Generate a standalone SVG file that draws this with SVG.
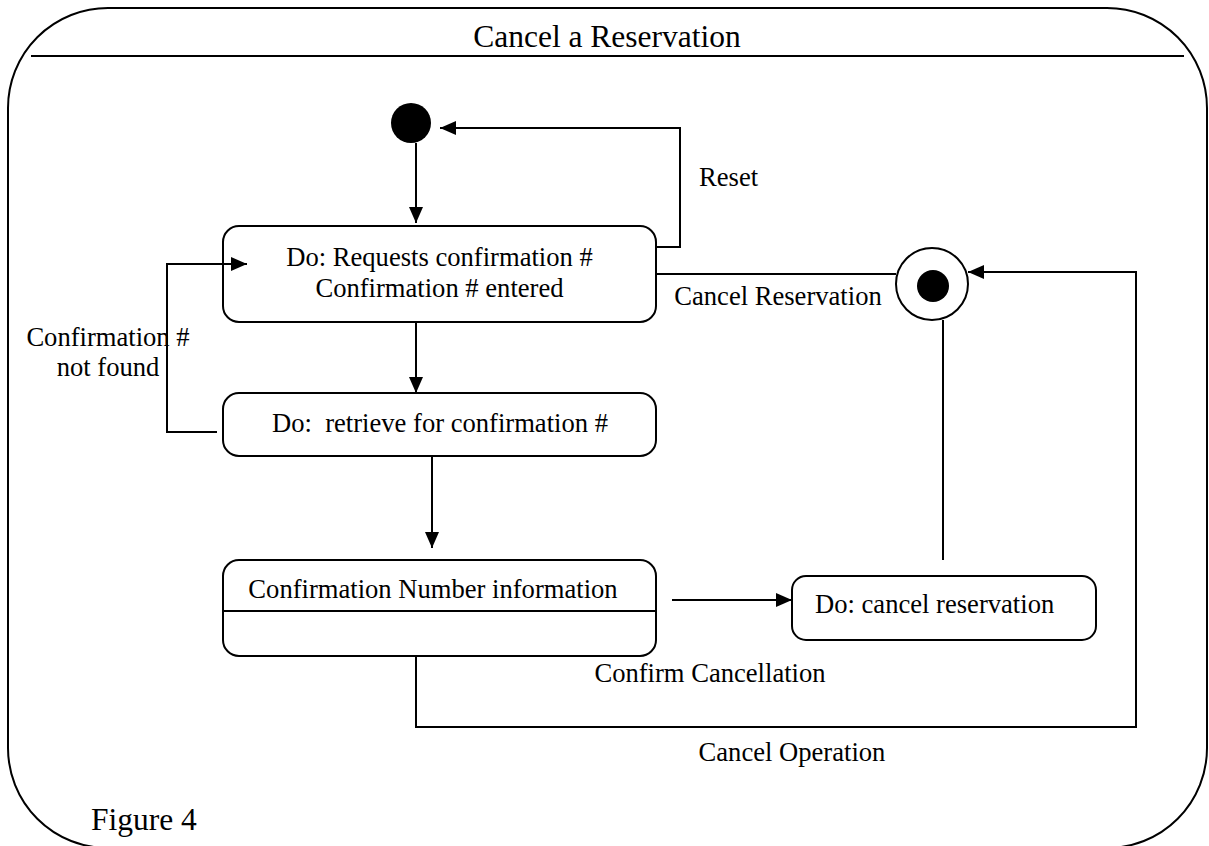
<svg xmlns="http://www.w3.org/2000/svg" width="1209" height="846" viewBox="0 0 1209 846">
<style>
.t{font-family:"Liberation Serif","Times New Roman",serif;font-size:26.6px;fill:#000}
.big{font-size:31.5px}
.box{fill:#fff;stroke:#000;stroke-width:2}
.ln{fill:none;stroke:#000;stroke-width:2}
</style>
<defs>
<marker id="ah" viewBox="0 0 16 14" refX="16" refY="7" markerWidth="16" markerHeight="14" markerUnits="userSpaceOnUse" orient="auto">
<path d="M0,0 L16,7 L0,14 Z" fill="#000"/>
</marker>
</defs>
<rect width="1209" height="846" fill="#fff"/>
<g id="frame">
<rect x="8" y="8" width="1199" height="840" rx="100" ry="100" fill="none" stroke="#000" stroke-width="2"/>
<line x1="31" y1="56" x2="1184" y2="56" stroke="#000" stroke-width="2"/>
<text class="t big" x="607" y="47" text-anchor="middle">Cancel a Reservation</text>
<text class="t big" x="91" y="830">Figure 4</text>
</g>
<g id="initial">
<circle cx="411" cy="123" r="20" fill="#000"/>
</g>
<g id="final">
<circle cx="932" cy="284" r="36" fill="#fff" stroke="#000" stroke-width="2"/>
<circle cx="933" cy="286" r="16" fill="#000"/>
</g>
<g id="request">
<rect class="box" x="223" y="226" width="433" height="96" rx="16"/>
<text class="t" x="439.5" y="266" text-anchor="middle">Do: Requests confirmation #</text>
<text class="t" x="439.5" y="297" text-anchor="middle">Confirmation # entered</text>
</g>
<g id="retrieve">
<rect class="box" x="223" y="393" width="433" height="63" rx="16"/>
<text class="t" x="440" y="432" text-anchor="middle" xml:space="preserve">Do:  retrieve for confirmation #</text>
</g>
<g id="info">
<rect class="box" x="223" y="560" width="433" height="96" rx="16"/>
<line x1="223" y1="611" x2="656" y2="611" stroke="#000" stroke-width="2"/>
<text class="t" x="433" y="598" text-anchor="middle">Confirmation Number information</text>
</g>
<g id="cancel">
<rect class="box" x="792" y="576" width="304" height="64" rx="14"/>
<text class="t" x="815" y="613">Do: cancel reservation</text>
</g>
<g id="connectors">
<path class="ln" d="M416,143 L416,223" marker-end="url(#ah)"/>
<path class="ln" d="M656,247 L680,247 L680,128 L440,128" marker-end="url(#ah)"/>
<path class="ln" d="M416,322 L416,393" marker-end="url(#ah)"/>
<path class="ln" d="M217,432 L167,432 L167,264 L247,264" marker-end="url(#ah)"/>
<path class="ln" d="M656,274 L896,274"/>
<path class="ln" d="M432,456 L432,548" marker-end="url(#ah)"/>
<path class="ln" d="M672,600 L792,600" marker-end="url(#ah)"/>
<path class="ln" d="M943,320 L943,560"/>
<path class="ln" d="M416,656 L416,727 L1136,727 L1136,272 L968,272" marker-end="url(#ah)"/>
<text class="t" x="699" y="186">Reset</text>
<text class="t" x="778" y="305" text-anchor="middle">Cancel Reservation</text>
<text class="t" x="108" y="346" text-anchor="middle">Confirmation #</text>
<text class="t" x="108" y="376" text-anchor="middle">not found</text>
<text class="t" x="710" y="682" text-anchor="middle">Confirm Cancellation</text>
<text class="t" x="792" y="761" text-anchor="middle">Cancel Operation</text>
</g>
</svg>
